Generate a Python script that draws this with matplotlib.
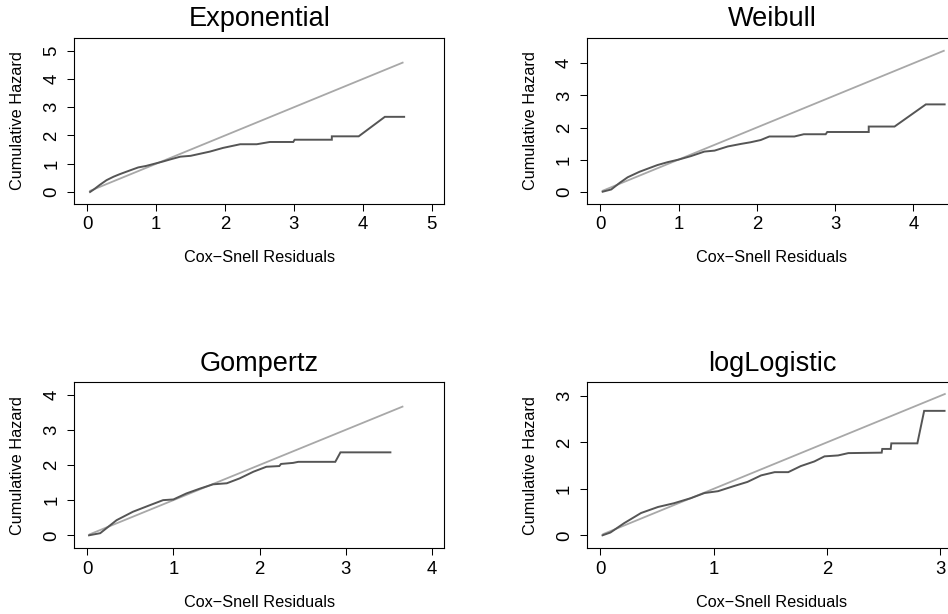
import matplotlib
matplotlib.use("Agg")
import matplotlib.pyplot as plt

plt.rcParams['font.family'] = ['Liberation Sans', 'DejaVu Sans']

W, H = 948, 614

titles = ["Exponential", "Weibull", "Gompertz", "logLogistic"]
xlabel = "Cox\u2212Snell Residuals"
ylabel = "Cumulative Hazard"

# Dark curves: cumulative hazard of Cox-Snell residuals
exp_x = [0.04, 0.10, 0.18, 0.28, 0.38, 0.47, 0.57, 0.66, 0.74, 0.85, 0.96, 1.10, 1.20, 1.35, 1.50,
         1.78, 1.97, 2.22, 2.46, 2.65, 2.99, 3.01, 3.55, 3.55, 3.94, 4.32, 4.60]
exp_y = [0.00, 0.10, 0.25, 0.42, 0.54, 0.63, 0.72, 0.80, 0.87, 0.92, 0.99, 1.08, 1.15, 1.25, 1.28,
         1.43, 1.56, 1.69, 1.69, 1.77, 1.77, 1.85, 1.85, 1.97, 1.97, 2.66, 2.66]
exp_ref = [0.03, 4.59]

wei_x = [0.03, 0.14, 0.25, 0.35, 0.50, 0.62, 0.73, 0.86, 1.00, 1.16, 1.33, 1.46, 1.63, 1.80, 1.92, 2.05,
         2.16, 2.48, 2.60, 2.88, 2.90, 3.43, 3.43, 3.76, 4.16, 4.40]
wei_y = [0.00, 0.07, 0.28, 0.45, 0.62, 0.73, 0.83, 0.92, 1.00, 1.11, 1.25, 1.28, 1.41, 1.49, 1.54, 1.61,
         1.72, 1.72, 1.79, 1.79, 1.86, 1.86, 2.03, 2.03, 2.72, 2.72]
wei_ref = [0.02, 4.40]

gom_x = [0.02, 0.15, 0.34, 0.53, 0.73, 0.88, 1.00, 1.15, 1.31, 1.46, 1.62, 1.77, 1.93, 2.08, 2.23, 2.25,
         2.39, 2.45, 2.88, 2.94, 3.52]
gom_y = [0.00, 0.06, 0.43, 0.67, 0.86, 1.00, 1.02, 1.19, 1.33, 1.45, 1.48, 1.62, 1.81, 1.95, 1.97, 2.03,
         2.06, 2.09, 2.09, 2.36, 2.36]
gom_ref = [0.02, 3.67]

llg_x = [0.02, 0.09, 0.21, 0.36, 0.51, 0.65, 0.80, 0.92, 1.04, 1.18, 1.30, 1.42, 1.54, 1.66, 1.77, 1.89,
         1.98, 2.10, 2.19, 2.485, 2.49, 2.565, 2.57, 2.80, 2.86, 3.04]
llg_y = [0.00, 0.06, 0.26, 0.48, 0.61, 0.69, 0.80, 0.91, 0.95, 1.06, 1.15, 1.29, 1.36, 1.36, 1.49, 1.59,
         1.70, 1.72, 1.77, 1.78, 1.86, 1.86, 1.98, 1.98, 2.68, 2.68]
llg_ref = [0.02, 3.05]

xticks = [[0, 1, 2, 3, 4, 5], [0, 1, 2, 3, 4], [0, 1, 2, 3, 4], [0, 1, 2, 3]]
yticks = [[0, 1, 2, 3, 4, 5], [0, 1, 2, 3, 4], [0, 1, 2, 3, 4], [0, 1, 2, 3]]

curves = [(exp_x, exp_y, exp_ref), (wei_x, wei_y, wei_ref),
          (gom_x, gom_y, gom_ref), (llg_x, llg_y, llg_ref)]

# layout (pixels): left, right, top, bottom of each plot box
boxes = [(74.3, 444.3, 38.0, 204.0), (587.0, 957.0, 38.0, 204.0),
         (74.3, 444.3, 382.3, 548.3), (587.0, 957.0, 382.3, 548.3)]
xlims = [(-0.189, 5.183), (-0.170, 4.558), (-0.151, 4.146), (-0.117, 3.150)]
ylims = [(-0.425, 5.45), (-0.383, 4.788), (-0.37, 4.353), (-0.28, 3.295)]

dark = '#555555'
light = '#a8a8a8'

fig = plt.figure(figsize=(W / 100, H / 100), dpi=100)
fig.patch.set_facecolor('white')

for i in range(4):
    l, r, t, b = boxes[i]
    ax = fig.add_axes([l / W, 1 - b / H, (r - l) / W, (b - t) / H])
    cx, cy, ref = curves[i]
    ax.plot(ref, ref, color=light, lw=1.3, solid_capstyle='butt')
    ax.plot(cx, cy, color=dark, lw=1.4, solid_joinstyle='miter')
    ax.set_xlim(*xlims[i])
    ax.set_ylim(*ylims[i])
    ax.set_xticks(xticks[i])
    ax.set_yticks(yticks[i])
    ax.set_xticklabels([str(v) for v in xticks[i]])
    ax.set_yticklabels([str(v) for v in yticks[i]], rotation=90, va='center')
    ax.tick_params(axis='both', direction='out', length=5.0, width=0.75,
                   labelsize=13.4, colors='black')
    ax.tick_params(axis='x', pad=4.0)
    ax.tick_params(axis='y', pad=5.0)
    for s in ax.spines.values():
        s.set_linewidth(0.8)
        s.set_color('black')
    cxp = (l + r) / 2
    fig.text(cxp / W, 1 - (t - 11.5) / H, titles[i], ha='center', va='baseline',
             fontsize=19.5)
    fig.text(cxp / W, 1 - (b + 58.3) / H, xlabel, ha='center', va='baseline',
             fontsize=11.7)
    fig.text((l - 56.5) / W, 1 - ((t + b) / 2) / H, ylabel, ha='center', va='center',
             rotation=90, fontsize=11.7)

fig.savefig('out.png', dpi=100)
